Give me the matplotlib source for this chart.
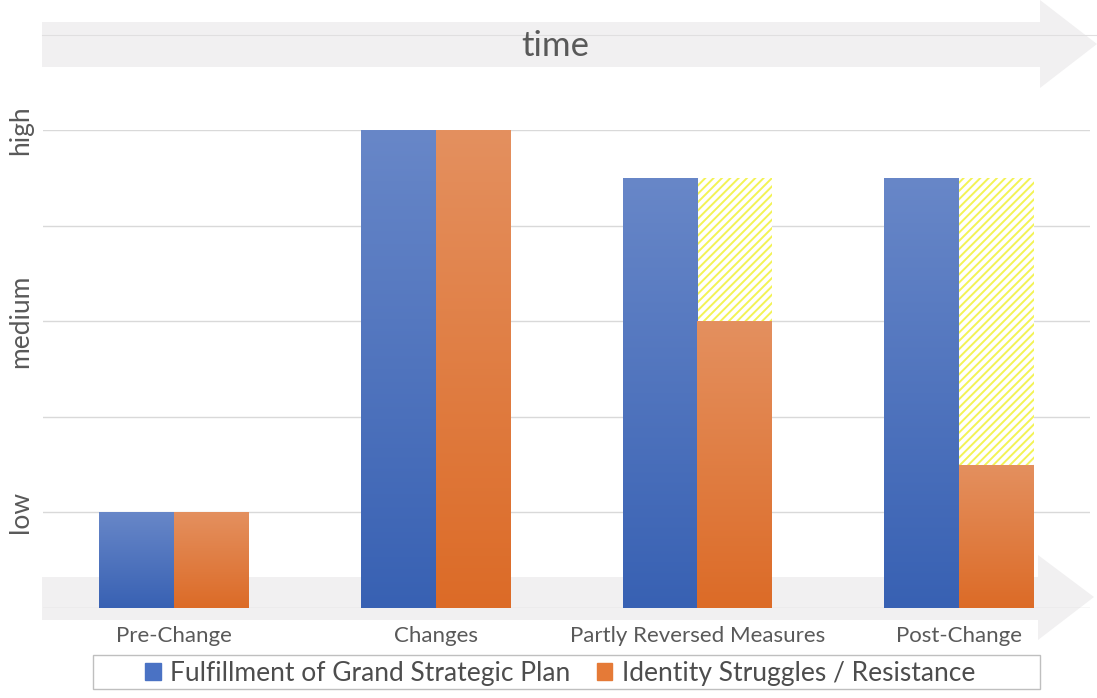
import numpy as np
import matplotlib.pyplot as plt
from matplotlib.colors import LinearSegmentedColormap
from matplotlib.patches import Polygon, Rectangle, Patch

plt.rcParams['font.family'] = ['Lato', 'DejaVu Sans']

# data
categories = ['Pre-Change', 'Changes', 'Partly Reversed Measures', 'Post-Change']
fulfillment = [1, 5, 4.5, 4.5]
resistance = [1, 5, 3, 1.5]
expected_resistance = [1, 5, 4.5, 4.5]   # hatched part goes from resistance up to here
level_ticks = [0, 1, 2, 3, 4, 5]
level_labels = ['', 'low', '', 'medium', '', 'high']
series_names = ['Fulfillment of Grand Strategic Plan', 'Identity Struggles / Resistance']

W, H = 1097, 698
fig = plt.figure(figsize=(W / 100, H / 100), dpi=100)
ax = fig.add_axes([43 / W, 90 / H, 1047 / W, 478 / H])
ax.patch.set_visible(False)


def px(x, y):
    # pixel position (from top left) -> figure fraction
    return (x / W, 1 - y / H)


# big grey "time" arrows
top_arrow = [px(42, 22), px(1040, 22), px(1040, 0), px(1097, 44), px(1040, 88), px(1040, 67), px(42, 67)]
bottom_arrow = [px(42, 577), px(1038, 577), px(1038, 555), px(1094, 597), px(1038, 640), px(1038, 620), px(42, 620)]
for pts in (top_arrow, bottom_arrow):
    fig.add_artist(Polygon(pts, closed=True, transform=fig.transFigure,
                           facecolor='#f1f0f1', edgecolor='none', zorder=-5))
fig.add_artist(plt.Line2D([42 / W, 1097 / W], [1 - 35 / H, 1 - 35 / H], transform=fig.transFigure,
                          color='#e0dfe0', lw=0.8, zorder=-4))
fig.text(555 / W, 1 - 46 / H, 'time', ha='center', va='center', fontsize=25, color='#595959')

x = np.arange(len(categories))
w = 0.286

grad = np.linspace(0, 1, 256).reshape(-1, 1)
blue_cmap = LinearSegmentedColormap.from_list('blue_grad', ['#3861b3', '#6887c8'])
orange_cmap = LinearSegmentedColormap.from_list('orange_grad', ['#dc6b27', '#e4905f'])


def gradient_bars(xpos, heights, cmap):
    bars = ax.bar(xpos, heights, w, color='none', edgecolor='none', zorder=3)
    for b in bars:
        im = ax.imshow(grad, extent=[b.get_x(), b.get_x() + b.get_width(), 0, b.get_height()],
                       origin='lower', aspect='auto', cmap=cmap, zorder=3, interpolation='bilinear')
        im.set_clip_path(b)


gradient_bars(x - w / 2, fulfillment, blue_cmap)
gradient_bars(x + w / 2, resistance, orange_cmap)

plt.rcParams['hatch.linewidth'] = 1.4
ax.bar(x + w / 2, np.subtract(expected_resistance, resistance), w, bottom=resistance,
       color='white', hatch='////', edgecolor='#f3f355', linewidth=0, zorder=2)

ax.set_xlim(-0.5, len(categories) - 0.5)
ax.set_ylim(0, 5)
ax.set_yticks(level_ticks)
ax.set_yticklabels(level_labels, rotation=90, va='center', fontsize=19, color='#595959')
ax.set_xticks(x)
ax.set_xticklabels(categories, fontsize=16, color='#595959')
ax.tick_params(axis='x', length=0, pad=13)
ax.tick_params(axis='y', length=0, pad=7)
ax.grid(axis='y', color='#d9d9d9', lw=1, zorder=1)
ax.set_axisbelow(True)
for s in ax.spines.values():
    s.set_visible(False)

handles = [Patch(color='#4a72c4'), Patch(color='#e57a37')]
fig.legend(handles, series_names, loc='center', bbox_to_anchor=(560 / W, 1 - 673 / H), ncol=2,
           frameon=False, fontsize=19, handlelength=0.6, handleheight=0.6, handletextpad=0.35,
           columnspacing=1.0, labelcolor='#4d4d4d')
fig.add_artist(Rectangle(px(93, 689), 947 / W, 34 / H, transform=fig.transFigure,
                         fill=False, edgecolor='#bfbfbf', lw=1))

fig.savefig('out.png', dpi=100)
